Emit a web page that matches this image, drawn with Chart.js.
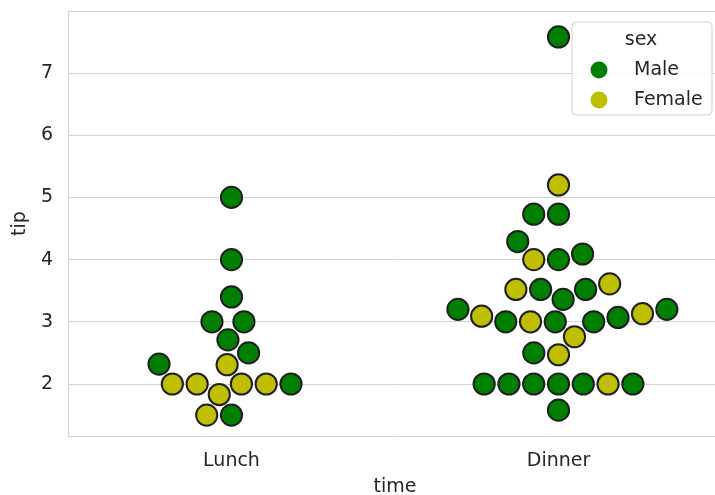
<!DOCTYPE html>
<html>
<head>
<meta charset="utf-8">
<script src="https://cdn.jsdelivr.net/npm/chart.js@4/dist/chart.umd.min.js"></script>
<style>
  html, body { margin: 0; padding: 0; background: #ffffff; overflow: hidden; }
  #wrap { width: 722px; height: 495px; }
</style>
</head>
<body>
<div id="wrap"><canvas id="c" width="722" height="495"></canvas></div>
<script>
// ---- data ----
const categories = ['Lunch', 'Dinner'];
const hueLevels = ['Male', 'Female'];
const legendTitle = 'sex';
const xTitle = 'time';
const yTitle = 'tip';
const yTicks = [2, 3, 4, 5, 6, 7];

const lunchTip = [1.5, 1.5, 1.83, 2.0, 2.0, 2.0, 2.0, 2.0, 2.31, 2.32, 2.5, 2.71, 3.0, 3.0, 3.4, 4.0, 5.0];
const lunchSex = ['Male', 'Female', 'Female', 'Female', 'Female', 'Female', 'Female', 'Male', 'Female', 'Male',
                  'Male', 'Male', 'Male', 'Male', 'Male', 'Male', 'Male'];

const dinnerTip = [1.58, 2.0, 2.0, 2.0, 2.0, 2.0, 2.0, 2.0, 2.47, 2.5, 2.76, 3.0, 3.0, 3.0, 3.0, 3.07, 3.09, 3.13,
                   3.2, 3.2, 3.36, 3.52, 3.52, 3.52, 3.61, 4.0, 4.0, 4.09, 4.29, 4.73, 4.73, 5.2, 7.58];
const dinnerSex = ['Male', 'Male', 'Male', 'Male', 'Male', 'Female', 'Male', 'Male', 'Female', 'Male', 'Female',
                   'Male', 'Female', 'Male', 'Male', 'Male', 'Female', 'Female', 'Male', 'Male', 'Male',
                   'Male', 'Male', 'Female', 'Female', 'Male', 'Female', 'Male', 'Male', 'Male', 'Male', 'Female', 'Male'];

// ---- styles ----
const hueColors = { Male: '#008000', Female: '#bfbf00' };
const edgeColor = '#1f1f1f';
const textColor = '#262626';
const gridColor = '#d3d3d3';
const FONT = "'DejaVu Sans', sans-serif";
const FONT_SIZE = 19;
const SWARM_D = 23.6; // marker diameter in px used for swarm layout

const groups = [
  { cat: 0, tips: lunchTip, sex: lunchSex },
  { cat: 1, tips: dinnerTip, sex: dinnerSex }
];

function initialData(level) {
  const out = [];
  groups.forEach(g => g.tips.forEach((v, i) => { if (g.sex[i] === level) out.push({ x: g.cat, y: v }); }));
  return out;
}

const legendPlugin = {
  id: 'swarmLegend',
  afterDatasetsDraw(chart) {
    const ctx = chart.ctx;
    const ca = chart.chartArea;
    ctx.save();
    // top spine
    ctx.strokeStyle = gridColor;
    ctx.lineWidth = 1;
    ctx.beginPath();
    ctx.moveTo(ca.left, Math.round(ca.top) + 0.5);
    ctx.lineTo(ca.right, Math.round(ca.top) + 0.5);
    ctx.stroke();
    // legend box
    const bx = 572, by = 22, bw = 140, bh = 93, r = 4;
    ctx.beginPath();
    ctx.moveTo(bx + r, by);
    ctx.arcTo(bx + bw, by, bx + bw, by + bh, r);
    ctx.arcTo(bx + bw, by + bh, bx, by + bh, r);
    ctx.arcTo(bx, by + bh, bx, by, r);
    ctx.arcTo(bx, by, bx + bw, by, r);
    ctx.closePath();
    ctx.fillStyle = 'rgba(255,255,255,0.8)';
    ctx.fill();
    ctx.strokeStyle = '#d0d0d0';
    ctx.stroke();
    ctx.fillStyle = textColor;
    ctx.font = FONT_SIZE + 'px ' + FONT;
    ctx.textBaseline = 'middle';
    ctx.textAlign = 'center';
    ctx.fillText(legendTitle, 641, 40);
    ctx.textAlign = 'left';
    hueLevels.forEach((lvl, i) => {
      const y = 70 + i * 30;
      ctx.beginPath();
      ctx.arc(599, y, 8.5, 0, Math.PI * 2);
      ctx.fillStyle = hueColors[lvl];
      ctx.fill();
      ctx.fillStyle = textColor;
      ctx.fillText(lvl, 634, y);
    });
    ctx.restore();
  }
};

const chart = new Chart(document.getElementById('c'), {
  type: 'scatter',
  data: {
    datasets: hueLevels.map(lvl => ({
      label: lvl,
      data: initialData(lvl),
      backgroundColor: hueColors[lvl],
      borderColor: edgeColor,
      borderWidth: 2,
      pointRadius: 10.6,
      pointHoverRadius: 10.6,
      clip: false
    }))
  },
  options: {
    responsive: false,
    animation: false,
    devicePixelRatio: 1,
    events: [],
    layout: { autoPadding: false, padding: { top: 11, left: 0, right: 0, bottom: 0 } },
    plugins: { legend: { display: false }, tooltip: { enabled: false } },
    scales: {
      x: {
        type: 'linear',
        min: -0.5,
        max: 1.5,
        afterBuildTicks: s => { s.ticks = categories.map((c, i) => ({ value: i })); },
        afterFit: s => { s.height = 59; s.paddingLeft = 0; s.paddingRight = 0; },
        ticks: {
          callback: v => categories[v],
          color: textColor,
          font: { family: FONT, size: FONT_SIZE },
          padding: 14,
          maxRotation: 0
        },
        grid: { display: false, drawTicks: false },
        border: { display: true, color: gridColor, width: 1 },
        title: {
          display: true, text: xTitle, color: textColor,
          font: { family: FONT, size: FONT_SIZE, lineHeight: 0.88 },
          padding: { top: 0, bottom: 0 }
        }
      },
      y: {
        min: 1.164,
        max: 7.997,
        afterBuildTicks: s => { s.ticks = yTicks.map(v => ({ value: v })); },
        afterFit: s => { s.width = 68; s.paddingTop = 0; s.paddingBottom = 0; },
        ticks: {
          color: textColor,
          font: { family: FONT, size: FONT_SIZE },
          padding: 15
        },
        grid: { color: gridColor, lineWidth: 1, drawTicks: false },
        border: { display: true, color: gridColor, width: 1 },
        title: {
          display: true, text: yTitle, color: textColor,
          font: { family: FONT, size: FONT_SIZE, lineHeight: 1.2 },
          padding: { top: 9, bottom: 0 }
        }
      }
    }
  },
  plugins: [legendPlugin]
});

// ---- swarm layout (seaborn-style beeswarm, computed in pixel space) ----
function beeswarm(pts, d) {
  const mid = pts[0].x;
  const swarm = [];
  for (const p of pts) {
    const neighbors = [];
    for (let j = swarm.length - 1; j >= 0; j--) {
      if (p.y - swarm[j].y < d) neighbors.push(swarm[j]); else break;
    }
    neighbors.reverse();
    const cands = [p.x];
    let leftFirst = true;
    for (const n of neighbors) {
      const dy = p.y - n.y;
      const dx = Math.sqrt(Math.max(d * d - dy * dy, 0)) * 1.05;
      if (leftFirst) cands.push(n.x - dx, n.x + dx); else cands.push(n.x + dx, n.x - dx);
      leftFirst = !leftFirst;
    }
    const order = cands.map((x, i) => ({ x, i, off: Math.abs(x - mid) }));
    order.sort((a, b) => (Math.abs(a.off - b.off) < 1e-6 ? a.i - b.i : a.off - b.off));
    let chosen = order[0].x;
    if (neighbors.length) {
      chosen = null;
      for (const c of order) {
        if (neighbors.every(n => (n.x - c.x) ** 2 + (n.y - p.y) ** 2 >= d * d - 1e-9)) { chosen = c.x; break; }
      }
      if (chosen === null) chosen = p.x;
    }
    swarm.push({ x: chosen, y: p.y, sex: p.sex, v: p.v });
  }
  return swarm;
}

(function applySwarm() {
  const xs = chart.scales.x, ys = chart.scales.y;
  const out = {};
  hueLevels.forEach(l => out[l] = []);
  groups.forEach(g => {
    const cx = xs.getPixelForValue(g.cat);
    const pts = g.tips.map((v, i) => ({ v, sex: g.sex[i], x: cx, y: -ys.getPixelForValue(v) }));
    pts.sort((a, b) => a.v - b.v);
    beeswarm(pts, SWARM_D).forEach(p => {
      out[p.sex].push({ x: xs.getValueForPixel(p.x), y: p.v });
    });
  });
  chart.data.datasets.forEach(ds => { ds.data = out[ds.label]; });
  chart.update('none');
})();
</script>
</body>
</html>
